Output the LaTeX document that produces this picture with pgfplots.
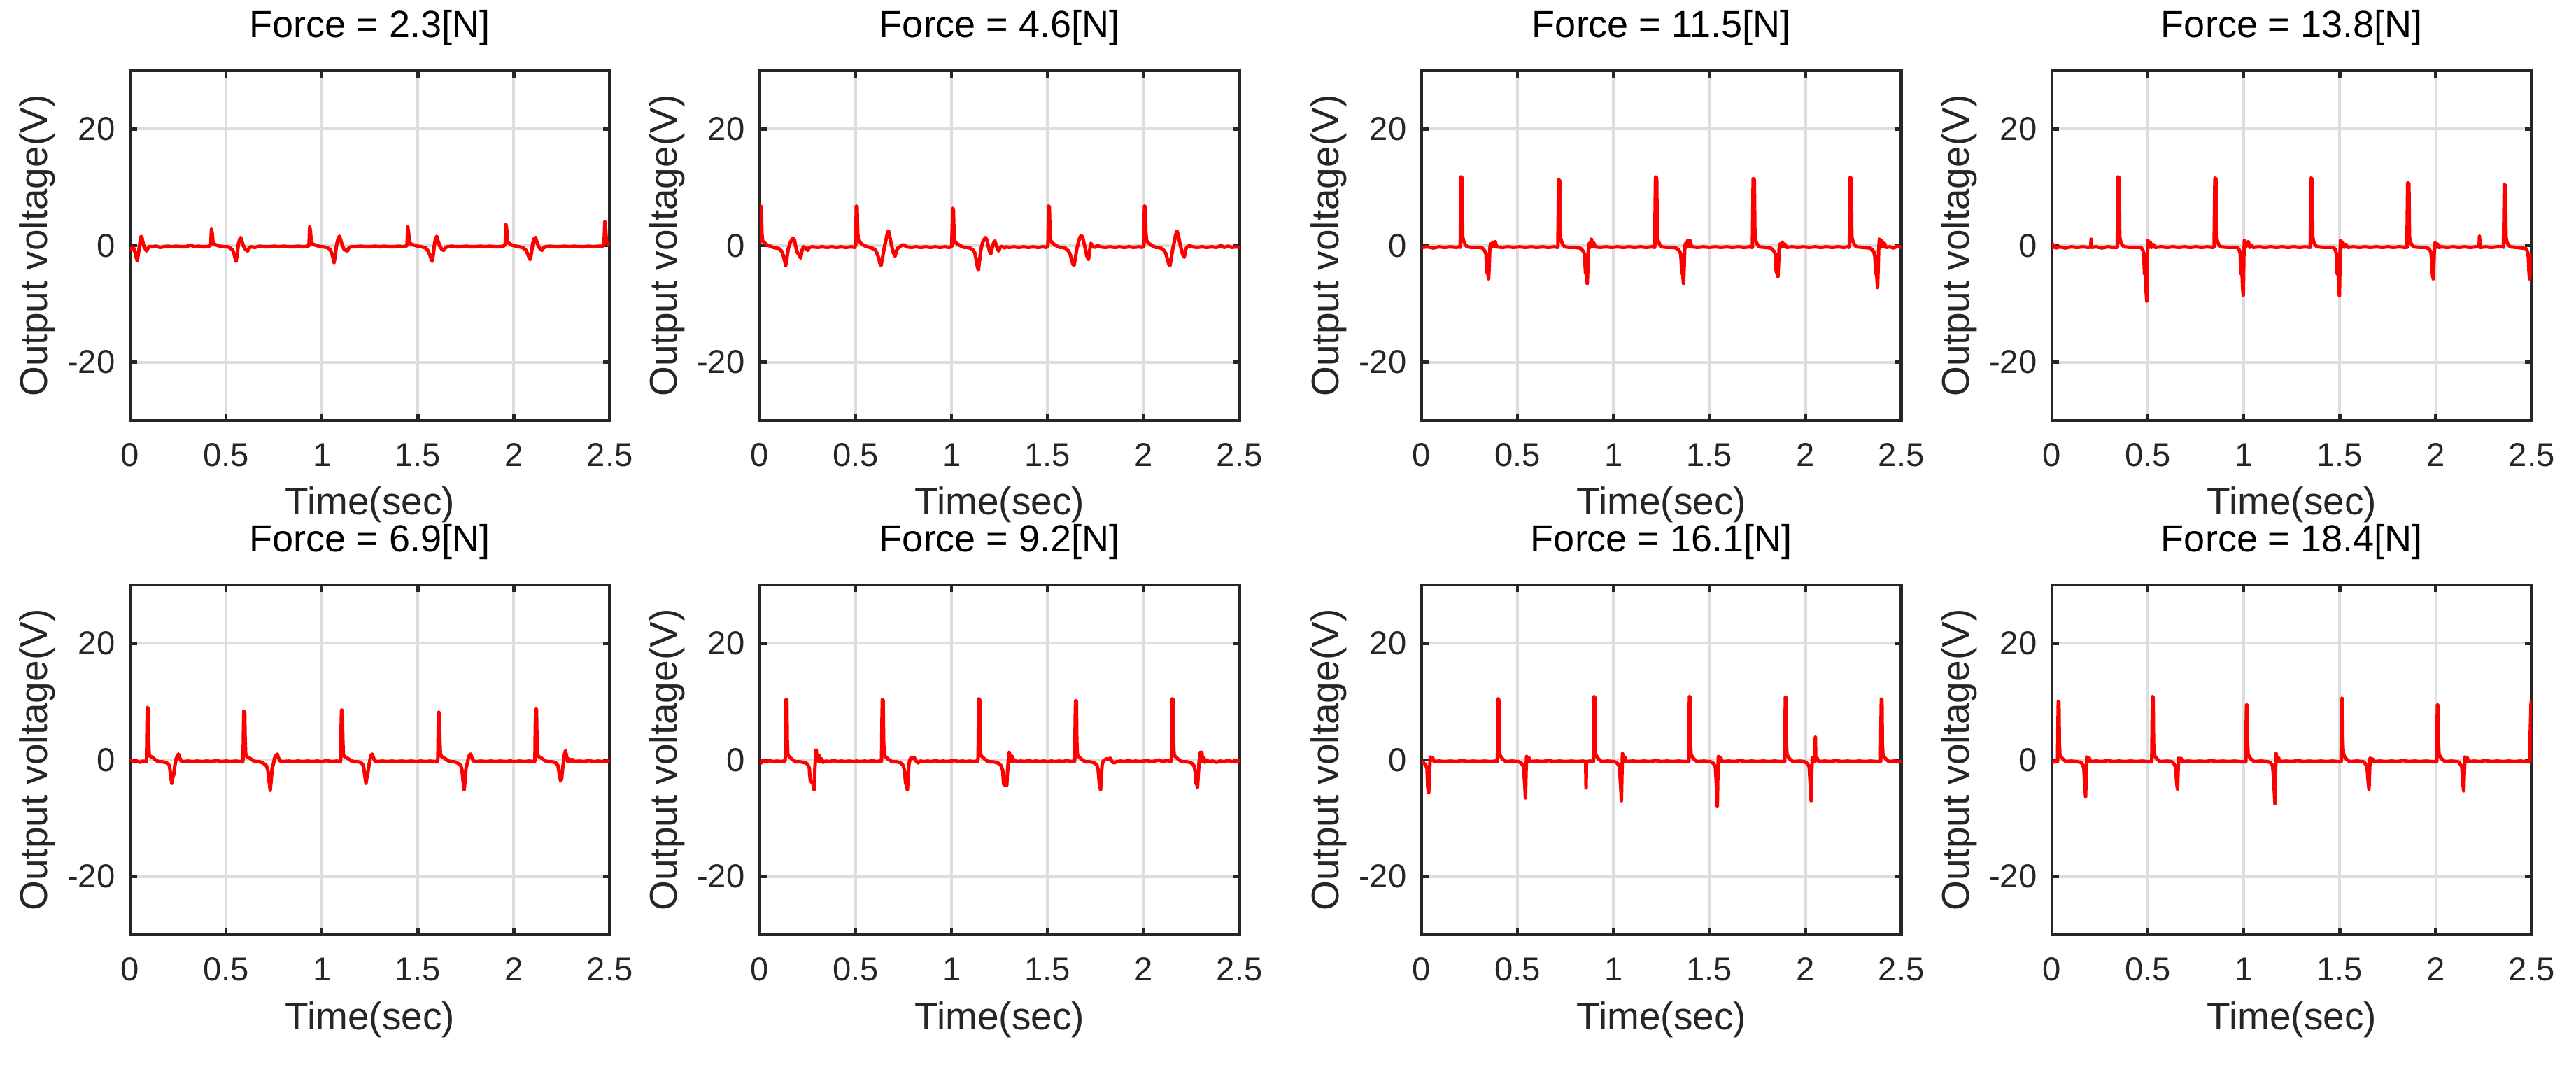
\documentclass[border=0pt]{standalone}
\usepackage{fontspec}
\setmainfont{Liberation Sans}
\usepackage{pgfplots}
\pgfplotsset{compat=1.18}
\definecolor{axc}{RGB}{38,38,38}
\definecolor{gridc}{RGB}{222,222,222}
\pgfplotsset{
  panel/.style={
    scale only axis, width=171.4pt, height=125pt, anchor=south west,
    xmin=0, xmax=2.5, ymin=-30, ymax=30,
    xtick={0,0.5,1,1.5,2,2.5}, xticklabels={0,0.5,1,1.5,2,2.5},
    ytick={-20,0,20}, yticklabels={-20,0,20},
    grid=major, major grid style={draw=gridc, line width=1pt},
    axis line style={draw=axc, line width=1.1pt},
    tick style={draw=axc, line width=1.1pt}, major tick length=2.4pt,
    tick align=inside, xtick pos=both, ytick pos=both,
    ticklabel style={font=\fontsize{11.8}{14}\selectfont, text=axc},
    xticklabel style={yshift=-4.7pt},
    yticklabel style={xshift=-1.9pt},
    xlabel={Time(sec)}, ylabel={Output voltage(V)},
    label style={font=\fontsize{13.75}{16}\selectfont, text=axc, inner sep=0pt},
    xlabel style={at={(axis description cs:0.5,-0.27)}, anchor=base},
    ylabel style={at={(axis description cs:-0.1727,0.5)}, anchor=base},
    title style={at={(axis description cs:0.5,1.047)}, anchor=base, inner sep=0pt, font=\fontsize{13.5}{16}\selectfont, text=black},
  },
  sig/.style={red, line width=1.25pt, line join=round, mark=none},
}
\begin{document}
\begin{tikzpicture}
\useasboundingbox (0,0) rectangle (920.5pt,380.25pt);
% ---------- Row 1 ----------
\begin{axis}[panel, at={(46.5pt,230pt)}, title={Force = 2.3[N]}]
\addplot[sig] coordinates {(0.000,-0.3) (0.008,-0.6) (0.018,-0.4) (0.026,-1.2) (0.032,-2.0) (0.037,-2.6) (0.042,-1.6) (0.048,-0.2) (0.053,1.0) (0.058,1.6) (0.063,1.2) (0.068,0.3) (0.074,-0.3) (0.080,-0.6) (0.086,-0.9) (0.092,-0.5) (0.098,-0.2) (0.115,-0.2) (0.135,-0.1) (0.155,-0.3) (0.175,-0.2) (0.195,-0.1) (0.215,-0.2) (0.240,-0.1) (0.265,-0.2) (0.290,-0.2) (0.315,0.1) (0.335,-0.2) (0.355,-0.1) (0.375,-0.2) (0.395,-0.2) (0.410,-0.1) (0.420,0.1) (0.424,2.8) (0.428,2.0) (0.432,0.6) (0.438,0.3) (0.450,0.1) (0.470,-0.1) (0.490,-0.2) (0.510,-0.2) (0.525,-0.5) (0.535,-0.8) (0.543,-1.6) (0.552,-2.7) (0.558,-1.5) (0.564,0.2) (0.570,1.0) (0.576,1.4) (0.582,0.8) (0.590,0.0) (0.598,-0.5) (0.606,-0.8) (0.613,-0.9) (0.620,-0.4) (0.630,-0.2) (0.650,-0.3) (0.675,-0.1) (0.700,-0.2) (0.725,-0.2) (0.750,-0.1) (0.775,-0.2) (0.800,-0.1) (0.825,-0.2) (0.850,-0.2) (0.875,-0.1) (0.900,-0.2) (0.925,-0.1) (0.932,0.0) (0.936,3.2) (0.940,2.4) (0.944,0.6) (0.950,0.3) (0.965,0.1) (0.985,-0.1) (1.005,-0.2) (1.025,-0.3) (1.040,-0.6) (1.050,-1.2) (1.057,-2.0) (1.063,-2.9) (1.069,-1.6) (1.076,0.1) (1.084,1.2) (1.091,1.6) (1.098,0.9) (1.106,0.0) (1.115,-0.6) (1.124,-0.8) (1.132,-0.9) (1.140,-0.4) (1.150,-0.2) (1.175,-0.2) (1.200,-0.1) (1.225,-0.2) (1.250,-0.2) (1.275,-0.1) (1.300,-0.2) (1.325,-0.1) (1.350,-0.2) (1.375,-0.2) (1.400,-0.1) (1.425,-0.2) (1.443,0.0) (1.447,3.2) (1.451,2.3) (1.455,0.7) (1.462,0.3) (1.480,0.1) (1.500,-0.1) (1.520,-0.2) (1.540,-0.4) (1.553,-0.9) (1.562,-1.6) (1.568,-2.2) (1.574,-2.7) (1.580,-1.5) (1.586,0.2) (1.592,1.2) (1.598,1.6) (1.605,0.8) (1.614,-0.1) (1.624,-0.6) (1.634,-0.8) (1.642,-0.4) (1.652,-0.2) (1.675,-0.1) (1.700,-0.2) (1.725,-0.2) (1.750,-0.1) (1.775,-0.2) (1.800,-0.2) (1.825,-0.1) (1.850,-0.2) (1.875,-0.1) (1.900,-0.2) (1.925,-0.2) (1.945,-0.1) (1.955,0.2) (1.959,3.6) (1.963,2.6) (1.967,0.8) (1.974,0.4) (1.990,0.1) (2.010,-0.1) (2.030,-0.2) (2.050,-0.4) (2.063,-0.8) (2.072,-1.4) (2.079,-2.0) (2.085,-2.4) (2.091,-1.4) (2.098,0.3) (2.106,1.2) (2.113,1.4) (2.120,0.6) (2.130,-0.2) (2.138,-0.6) (2.146,-0.8) (2.154,-0.4) (2.165,-0.2) (2.190,-0.1) (2.215,-0.2) (2.240,-0.2) (2.265,-0.1) (2.290,-0.2) (2.315,-0.1) (2.340,-0.2) (2.365,-0.2) (2.390,-0.1) (2.415,-0.2) (2.440,-0.1) (2.460,-0.1) (2.470,0.1) (2.474,4.1) (2.478,3.0) (2.482,0.8) (2.490,0.3) (2.500,0.1)};
\end{axis}
\begin{axis}[panel, at={(271.5pt,230pt)}, title={Force = 4.6[N]}]
\addplot[sig] coordinates {(0.000,0.2) (0.002,3.5) (0.004,6.8) (0.008,6.6) (0.011,2.0) (0.015,0.8) (0.022,0.6) (0.030,0.3) (0.040,0.1) (0.055,-0.1) (0.070,-0.3) (0.085,-0.4) (0.100,-0.5) (0.112,-0.9) (0.120,-1.4) (0.128,-2.4) (0.135,-3.4) (0.141,-2.2) (0.148,-0.6) (0.156,0.3) (0.165,0.9) (0.172,1.3) (0.180,1.0) (0.188,-0.3) (0.196,-1.2) (0.205,-1.6) (0.213,-2.1) (0.220,-0.8) (0.228,-0.2) (0.240,-0.4) (0.250,-0.8) (0.258,-0.3) (0.275,-0.2) (0.300,-0.3) (0.325,-0.2) (0.350,-0.3) (0.375,-0.2) (0.400,-0.3) (0.425,-0.2) (0.450,-0.3) (0.475,-0.2) (0.495,-0.3) (0.500,0.2) (0.503,6.8) (0.507,6.6) (0.510,2.2) (0.514,0.9) (0.522,0.6) (0.530,0.3) (0.545,0.0) (0.560,-0.2) (0.575,-0.3) (0.590,-0.5) (0.603,-0.8) (0.612,-1.4) (0.620,-2.2) (0.626,-3.0) (0.632,-3.4) (0.638,-2.4) (0.645,-1.0) (0.652,0.2) (0.660,1.3) (0.666,2.3) (0.671,2.5) (0.676,1.8) (0.683,0.6) (0.690,-0.4) (0.697,-1.3) (0.705,-1.8) (0.712,-0.9) (0.720,-0.4) (0.730,-0.2) (0.740,0.1) (0.752,0.1) (0.765,-0.2) (0.790,-0.3) (0.815,-0.2) (0.840,-0.3) (0.865,-0.2) (0.890,-0.3) (0.915,-0.2) (0.940,-0.3) (0.965,-0.2) (0.985,-0.3) (1.000,-0.2) (1.003,3.0) (1.006,6.4) (1.009,6.2) (1.012,2.2) (1.016,0.8) (1.025,0.4) (1.035,0.2) (1.050,-0.1) (1.065,-0.3) (1.080,-0.3) (1.095,-0.4) (1.110,-0.7) (1.120,-1.2) (1.128,-2.4) (1.134,-3.6) (1.139,-4.2) (1.145,-2.6) (1.152,-0.8) (1.160,0.4) (1.168,1.0) (1.177,1.4) (1.185,0.8) (1.192,-0.2) (1.198,-1.0) (1.204,-1.4) (1.211,-0.4) (1.218,0.4) (1.225,0.8) (1.232,0.1) (1.239,-0.6) (1.245,-0.9) (1.253,-0.3) (1.262,-0.1) (1.275,-0.4) (1.285,-0.2) (1.300,-0.3) (1.325,-0.2) (1.350,-0.3) (1.375,-0.2) (1.400,-0.3) (1.425,-0.2) (1.450,-0.3) (1.475,-0.2) (1.495,-0.3) (1.502,0.1) (1.505,6.8) (1.509,6.6) (1.512,2.2) (1.516,0.9) (1.524,0.5) (1.535,0.2) (1.550,-0.1) (1.565,-0.3) (1.580,-0.3) (1.595,-0.5) (1.608,-0.9) (1.617,-1.4) (1.625,-2.4) (1.632,-3.2) (1.638,-3.4) (1.644,-2.2) (1.652,-0.6) (1.660,0.5) (1.668,1.4) (1.675,1.7) (1.682,1.5) (1.690,0.4) (1.697,-0.6) (1.705,-1.8) (1.713,-2.4) (1.719,-0.8) (1.726,0.4) (1.733,-0.1) (1.745,-0.3) (1.760,0.0) (1.775,-0.2) (1.800,-0.3) (1.825,-0.2) (1.850,-0.3) (1.875,-0.2) (1.900,-0.3) (1.925,-0.2) (1.950,-0.3) (1.975,-0.2) (1.995,-0.3) (2.002,0.1) (2.005,6.8) (2.009,6.6) (2.012,2.2) (2.016,0.9) (2.024,0.5) (2.035,0.2) (2.050,-0.1) (2.065,-0.3) (2.080,-0.3) (2.095,-0.5) (2.108,-0.9) (2.117,-1.4) (2.125,-2.4) (2.132,-3.2) (2.138,-3.4) (2.144,-2.2) (2.152,-0.6) (2.160,0.6) (2.167,1.8) (2.174,2.5) (2.180,2.0) (2.188,0.6) (2.196,-0.5) (2.204,-1.5) (2.212,-2.0) (2.219,-0.7) (2.227,-0.2) (2.240,0.0) (2.255,-0.2) (2.280,-0.3) (2.305,-0.2) (2.330,-0.3) (2.355,-0.2) (2.380,-0.3) (2.405,0.0) (2.420,-0.3) (2.440,-0.1) (2.460,-0.3) (2.480,-0.2) (2.500,-0.3)};
\end{axis}
\begin{axis}[panel, at={(508pt,230pt)}, title={Force = 11.5[N]}]
\addplot[sig] coordinates {(0.000,-0.3) (0.030,-0.2) (0.060,-0.4) (0.090,-0.2) (0.120,-0.3) (0.150,-0.2) (0.180,-0.3) (0.195,-0.2) (0.201,-0.3) (0.203,6.0) (0.205,11.8) (0.211,11.6) (0.212,8.0) (0.214,1.5) (0.219,0.8) (0.227,0.2) (0.237,-0.2) (0.260,-0.3) (0.285,-0.3) (0.309,-0.3) (0.319,-0.5) (0.329,-0.9) (0.335,-1.4) (0.340,-4.5) (0.345,-4.8) (0.349,-5.7) (0.352,-3.5) (0.355,-0.6) (0.359,0.3) (0.365,-0.3) (0.371,0.6) (0.377,-0.2) (0.383,0.7) (0.391,-0.2) (0.420,-0.3) (0.450,-0.2) (0.480,-0.3) (0.510,-0.2) (0.540,-0.3) (0.570,-0.2) (0.600,-0.3) (0.630,-0.2) (0.660,-0.3) (0.690,-0.2) (0.710,-0.3) (0.712,5.5) (0.714,11.3) (0.720,11.1) (0.721,7.5) (0.723,1.5) (0.728,0.8) (0.736,0.2) (0.746,-0.2) (0.770,-0.3) (0.800,-0.3) (0.823,-0.4) (0.833,-0.6) (0.843,-1.0) (0.849,-1.5) (0.854,-4.6) (0.859,-5.0) (0.863,-6.5) (0.866,-3.8) (0.869,-0.6) (0.873,0.4) (0.879,-0.3) (0.885,1.1) (0.891,-0.2) (0.897,0.5) (0.905,-0.2) (0.930,-0.3) (0.960,-0.2) (0.990,-0.3) (1.020,-0.2) (1.050,-0.3) (1.080,-0.2) (1.110,-0.3) (1.140,-0.2) (1.170,-0.3) (1.200,-0.2) (1.215,-0.3) (1.217,6.0) (1.219,11.8) (1.225,11.6) (1.226,8.0) (1.228,1.5) (1.233,0.8) (1.241,0.2) (1.251,-0.2) (1.280,-0.3) (1.310,-0.3) (1.325,-0.4) (1.335,-0.6) (1.345,-1.0) (1.351,-1.5) (1.356,-4.6) (1.361,-5.0) (1.365,-6.5) (1.368,-3.8) (1.371,-0.6) (1.375,0.4) (1.381,-0.3) (1.387,0.9) (1.393,-0.1) (1.399,0.9) (1.407,-0.2) (1.440,-0.3) (1.470,-0.2) (1.500,-0.3) (1.530,-0.2) (1.560,-0.3) (1.590,-0.2) (1.620,-0.3) (1.650,-0.2) (1.680,-0.3) (1.710,-0.2) (1.724,-0.3) (1.726,5.8) (1.728,11.5) (1.734,11.3) (1.735,7.8) (1.737,1.5) (1.742,0.8) (1.750,0.2) (1.760,-0.2) (1.790,-0.3) (1.817,-0.4) (1.827,-0.6) (1.837,-1.0) (1.843,-1.4) (1.848,-4.4) (1.853,-4.8) (1.857,-5.3) (1.860,-3.2) (1.863,-0.6) (1.867,0.3) (1.873,-0.3) (1.879,0.6) (1.885,-0.2) (1.893,0.3) (1.901,-0.3) (1.930,-0.2) (1.960,-0.3) (1.990,-0.2) (2.020,-0.3) (2.050,-0.2) (2.080,-0.3) (2.110,-0.2) (2.140,-0.3) (2.170,-0.2) (2.200,-0.3) (2.220,-0.2) (2.229,-0.3) (2.231,6.0) (2.233,11.7) (2.239,11.5) (2.240,7.9) (2.242,1.5) (2.247,0.8) (2.255,0.2) (2.265,-0.2) (2.300,-0.3) (2.336,-0.4) (2.346,-0.6) (2.356,-1.0) (2.362,-1.8) (2.367,-4.6) (2.372,-5.2) (2.376,-7.2) (2.379,-4.0) (2.382,-0.6) (2.386,1.1) (2.392,-0.2) (2.398,0.9) (2.404,-0.2) (2.412,0.4) (2.420,-0.3) (2.440,-0.2) (2.460,-0.4) (2.480,-0.1) (2.500,-0.3)};
\end{axis}
\begin{axis}[panel, at={(733.25pt,230pt)}, title={Force = 13.8[N]}]
\addplot[sig] coordinates {(0.000,0.5) (0.004,-0.4) (0.010,0.1) (0.020,-0.4) (0.040,-0.2) (0.070,-0.4) (0.100,-0.2) (0.130,-0.3) (0.160,-0.2) (0.190,-0.3) (0.202,-0.2) (0.204,1.1) (0.207,-0.3) (0.230,-0.2) (0.260,-0.4) (0.290,-0.2) (0.320,-0.3) (0.340,-0.3) (0.342,6.0) (0.344,11.8) (0.350,11.6) (0.351,8.0) (0.353,1.5) (0.358,0.6) (0.366,0.1) (0.376,-0.2) (0.410,-0.3) (0.445,-0.3) (0.464,-0.3) (0.474,-0.8) (0.478,-1.4) (0.482,-4.8) (0.488,-5.0) (0.491,-8.0) (0.494,-9.5) (0.497,-1.5) (0.500,0.9) (0.506,-0.3) (0.512,0.6) (0.520,-0.3) (0.528,0.2) (0.536,-0.3) (0.570,-0.2) (0.600,-0.3) (0.630,-0.2) (0.660,-0.3) (0.690,-0.2) (0.720,-0.3) (0.750,-0.2) (0.780,-0.3) (0.810,-0.2) (0.840,-0.3) (0.845,-0.2) (0.847,5.8) (0.849,11.6) (0.855,11.4) (0.856,7.8) (0.858,1.5) (0.863,0.6) (0.871,0.1) (0.881,-0.2) (0.920,-0.3) (0.950,-0.3) (0.967,-0.3) (0.977,-0.8) (0.981,-1.4) (0.985,-4.8) (0.991,-5.0) (0.994,-7.5) (0.997,-8.5) (1.000,-1.5) (1.003,0.9) (1.009,-0.3) (1.015,0.3) (1.023,0.7) (1.031,-0.3) (1.039,0.1) (1.047,-0.3) (1.080,-0.2) (1.110,-0.3) (1.140,-0.2) (1.170,-0.3) (1.200,-0.2) (1.230,-0.3) (1.260,-0.2) (1.290,-0.3) (1.320,-0.2) (1.346,-0.3) (1.348,5.8) (1.350,11.6) (1.356,11.4) (1.357,7.8) (1.359,1.5) (1.364,0.6) (1.372,0.1) (1.382,-0.2) (1.420,-0.3) (1.450,-0.3) (1.468,-0.3) (1.478,-0.8) (1.482,-1.4) (1.486,-4.8) (1.492,-5.0) (1.495,-7.5) (1.498,-8.6) (1.501,-1.5) (1.504,0.9) (1.510,-0.3) (1.516,0.6) (1.524,-0.3) (1.532,0.2) (1.540,-0.3) (1.570,-0.2) (1.600,-0.3) (1.630,-0.2) (1.660,-0.3) (1.690,-0.2) (1.720,-0.3) (1.750,-0.2) (1.780,-0.3) (1.810,-0.2) (1.840,-0.3) (1.850,-0.3) (1.852,5.5) (1.854,10.8) (1.860,10.6) (1.861,7.2) (1.863,1.5) (1.868,0.6) (1.876,0.1) (1.886,-0.2) (1.920,-0.3) (1.950,-0.3) (1.962,-0.5) (1.970,-0.8) (1.975,-1.2) (1.979,-2.5) (1.983,-5.0) (1.987,-5.7) (1.990,-3.0) (1.993,-0.4) (1.997,0.5) (2.003,-0.3) (2.009,0.3) (2.017,-0.3) (2.030,-0.2) (2.060,-0.3) (2.090,-0.2) (2.120,-0.3) (2.150,-0.2) (2.180,-0.3) (2.210,-0.2) (2.226,-0.2) (2.228,1.6) (2.231,-0.3) (2.260,-0.2) (2.290,-0.3) (2.320,-0.2) (2.350,-0.2) (2.353,-0.3) (2.355,5.3) (2.357,10.5) (2.363,10.3) (2.364,7.0) (2.366,1.5) (2.371,0.6) (2.379,0.1) (2.389,-0.2) (2.420,-0.3) (2.450,-0.4) (2.470,-0.5) (2.478,-1.0) (2.483,-2.0) (2.486,-4.5) (2.489,-5.7) (2.492,-4.0) (2.495,-2.0) (2.500,-1.3)};
\end{axis}
% ---------- Row 2 ----------
\begin{axis}[panel, at={(46.5pt,46.25pt)}, title={Force = 6.9[N]}]
\addplot[sig] coordinates {(0.000,-0.2) (0.010,0.0) (0.020,-0.3) (0.035,-0.2) (0.050,-0.4) (0.065,-0.2) (0.078,-0.3) (0.084,-0.3) (0.086,0.4) (0.088,6.0) (0.090,9.0) (0.094,8.8) (0.096,4.0) (0.099,1.0) (0.105,0.6) (0.115,0.5) (0.125,0.2) (0.135,-0.1) (0.150,-0.3) (0.165,-0.3) (0.180,-0.4) (0.190,-0.5) (0.198,-0.7) (0.205,-1.0) (0.211,-2.6) (0.217,-4.0) (0.222,-3.0) (0.227,-2.5) (0.233,-1.0) (0.240,0.2) (0.246,0.7) (0.252,1.0) (0.258,0.4) (0.266,-0.2) (0.280,-0.3) (0.300,-0.2) (0.325,-0.3) (0.350,-0.2) (0.375,-0.3) (0.400,-0.2) (0.425,-0.3) (0.450,-0.1) (0.475,-0.3) (0.500,-0.2) (0.525,-0.3) (0.550,-0.2) (0.575,-0.3) (0.587,-0.3) (0.589,0.4) (0.591,5.6) (0.593,8.4) (0.597,8.2) (0.599,3.8) (0.602,1.0) (0.608,0.6) (0.618,0.4) (0.628,0.2) (0.640,-0.1) (0.655,-0.3) (0.675,-0.3) (0.690,-0.5) (0.700,-0.7) (0.710,-1.0) (0.718,-1.8) (0.724,-3.5) (0.730,-5.2) (0.735,-3.5) (0.740,-1.4) (0.746,-0.8) (0.752,0.2) (0.760,0.8) (0.767,1.0) (0.774,0.3) (0.782,-0.2) (0.800,-0.3) (0.825,-0.2) (0.850,-0.3) (0.875,-0.2) (0.900,-0.3) (0.925,-0.2) (0.950,-0.3) (0.975,-0.2) (1.000,-0.3) (1.025,-0.1) (1.050,-0.3) (1.075,-0.2) (1.096,-0.3) (1.098,0.4) (1.100,5.8) (1.102,8.6) (1.106,8.4) (1.108,3.9) (1.111,1.0) (1.117,0.6) (1.127,0.4) (1.137,0.2) (1.150,-0.1) (1.165,-0.3) (1.185,-0.3) (1.198,-0.4) (1.208,-0.6) (1.216,-1.0) (1.223,-2.6) (1.229,-4.0) (1.234,-3.0) (1.239,-2.2) (1.245,-0.9) (1.251,0.2) (1.256,0.8) (1.262,1.0) (1.268,0.4) (1.276,-0.2) (1.290,-0.3) (1.315,-0.2) (1.340,-0.3) (1.365,-0.2) (1.390,-0.3) (1.415,-0.2) (1.440,-0.3) (1.465,-0.2) (1.490,-0.3) (1.515,-0.2) (1.540,-0.3) (1.565,-0.2) (1.590,-0.3) (1.602,-0.3) (1.604,0.4) (1.606,5.5) (1.608,8.2) (1.612,8.0) (1.614,3.7) (1.617,1.0) (1.623,0.6) (1.633,0.4) (1.643,0.2) (1.655,-0.1) (1.670,-0.3) (1.690,-0.3) (1.705,-0.5) (1.715,-0.7) (1.724,-1.0) (1.730,-1.8) (1.735,-3.5) (1.741,-5.1) (1.746,-3.4) (1.751,-1.3) (1.757,-0.6) (1.763,0.3) (1.769,0.9) (1.775,1.0) (1.782,0.3) (1.790,-0.2) (1.805,-0.3) (1.830,-0.2) (1.855,-0.3) (1.880,-0.2) (1.905,-0.3) (1.930,-0.2) (1.955,-0.3) (1.980,-0.2) (2.005,-0.3) (2.030,-0.2) (2.055,-0.3) (2.080,-0.2) (2.100,-0.3) (2.108,-0.3) (2.110,0.4) (2.112,6.0) (2.114,8.8) (2.118,8.6) (2.120,4.0) (2.123,1.0) (2.129,0.6) (2.139,0.4) (2.149,0.2) (2.160,-0.1) (2.175,-0.3) (2.195,-0.3) (2.212,-0.4) (2.222,-0.6) (2.230,-1.0) (2.237,-2.4) (2.244,-3.6) (2.249,-3.2) (2.254,-1.5) (2.259,-0.2) (2.264,1.0) (2.269,1.6) (2.274,0.8) (2.280,-0.3) (2.288,0.2) (2.296,-0.3) (2.304,0.1) (2.315,-0.3) (2.340,-0.2) (2.365,-0.3) (2.390,-0.1) (2.415,-0.3) (2.440,-0.2) (2.465,-0.3) (2.500,-0.2)};
\end{axis}
\begin{axis}[panel, at={(271.5pt,46.25pt)}, title={Force = 9.2[N]}]
\addplot[sig] coordinates {(0.000,-0.2) (0.008,-0.5) (0.015,-0.1) (0.030,-0.3) (0.050,-0.1) (0.070,-0.3) (0.090,-0.2) (0.110,-0.3) (0.125,-0.2) (0.131,-0.2) (0.133,0.5) (0.135,7.0) (0.137,10.4) (0.141,10.2) (0.143,3.5) (0.146,1.0) (0.152,0.6) (0.162,0.3) (0.172,0.0) (0.187,-0.3) (0.205,-0.3) (0.225,-0.4) (0.240,-0.5) (0.250,-0.8) (0.258,-1.4) (0.263,-3.5) (0.270,-3.8) (0.276,-3.9) (0.283,-5.1) (0.287,-1.5) (0.291,0.8) (0.294,1.7) (0.298,0.3) (0.303,-0.2) (0.308,0.8) (0.314,-0.3) (0.322,0.2) (0.330,-0.4) (0.345,-0.2) (0.365,-0.3) (0.385,-0.1) (0.405,-0.3) (0.425,-0.2) (0.445,-0.3) (0.465,-0.2) (0.485,-0.3) (0.505,-0.2) (0.525,-0.3) (0.545,-0.2) (0.565,-0.3) (0.585,-0.1) (0.605,-0.3) (0.625,-0.2) (0.633,-0.3) (0.635,0.5) (0.637,7.0) (0.639,10.4) (0.643,10.2) (0.645,3.5) (0.648,1.0) (0.654,0.6) (0.664,0.3) (0.674,0.0) (0.690,-0.3) (0.710,-0.3) (0.725,-0.4) (0.738,-0.6) (0.748,-1.0) (0.755,-2.0) (0.760,-4.0) (0.765,-4.4) (0.769,-5.1) (0.773,-3.0) (0.777,-0.8) (0.782,0.0) (0.788,0.4) (0.795,0.2) (0.805,0.4) (0.815,-0.2) (0.825,-0.5) (0.835,-0.2) (0.855,-0.3) (0.875,-0.2) (0.895,-0.3) (0.915,-0.1) (0.935,-0.3) (0.955,-0.2) (0.975,-0.3) (0.995,-0.2) (1.015,-0.1) (1.035,-0.3) (1.055,-0.2) (1.075,-0.3) (1.095,-0.2) (1.115,-0.3) (1.130,-0.2) (1.136,-0.2) (1.138,0.5) (1.140,7.2) (1.142,10.5) (1.146,10.3) (1.148,3.6) (1.151,1.0) (1.157,0.6) (1.167,0.3) (1.177,0.0) (1.192,-0.3) (1.210,-0.3) (1.230,-0.4) (1.245,-0.6) (1.258,-1.0) (1.266,-1.8) (1.271,-4.2) (1.280,-4.3) (1.287,-4.4) (1.291,-2.0) (1.296,0.2) (1.300,1.3) (1.304,0.8) (1.308,-0.2) (1.314,0.7) (1.320,-0.3) (1.330,0.0) (1.340,-0.3) (1.360,-0.2) (1.380,-0.3) (1.400,-0.1) (1.420,-0.3) (1.440,-0.2) (1.460,-0.3) (1.480,-0.2) (1.500,-0.3) (1.520,-0.2) (1.540,-0.3) (1.560,-0.2) (1.580,-0.3) (1.600,-0.1) (1.620,-0.3) (1.635,-0.2) (1.640,-0.3) (1.642,0.4) (1.644,7.0) (1.646,10.2) (1.650,10.0) (1.652,3.4) (1.655,1.0) (1.661,0.6) (1.671,0.3) (1.681,0.0) (1.696,-0.3) (1.715,-0.3) (1.735,-0.4) (1.748,-0.6) (1.758,-1.0) (1.764,-1.8) (1.769,-3.8) (1.772,-4.4) (1.776,-5.1) (1.780,-2.8) (1.784,-0.8) (1.790,-0.2) (1.798,0.0) (1.808,0.2) (1.818,0.1) (1.826,0.3) (1.834,-0.2) (1.845,-0.5) (1.860,-0.3) (1.880,-0.2) (1.900,-0.3) (1.920,-0.1) (1.940,-0.3) (1.960,-0.2) (1.980,-0.3) (2.000,-0.2) (2.020,-0.1) (2.040,-0.3) (2.060,-0.2) (2.080,0.0) (2.100,-0.3) (2.120,-0.1) (2.138,-0.2) (2.144,-0.2) (2.146,0.5) (2.148,7.2) (2.150,10.5) (2.154,10.3) (2.156,3.6) (2.159,1.0) (2.165,0.6) (2.175,0.3) (2.185,0.0) (2.200,-0.3) (2.220,-0.3) (2.240,-0.4) (2.253,-0.6) (2.263,-1.0) (2.269,-2.0) (2.274,-4.0) (2.278,-4.2) (2.281,-4.7) (2.285,-2.5) (2.290,-0.2) (2.296,1.3) (2.301,0.6) (2.304,1.3) (2.308,-0.3) (2.314,0.4) (2.320,-0.4) (2.330,0.0) (2.340,-0.3) (2.360,-0.2) (2.380,-0.4) (2.400,-0.2) (2.420,-0.3) (2.440,-0.1) (2.460,-0.3) (2.480,-0.2) (2.500,-0.2)};
\end{axis}
\begin{axis}[panel, at={(508pt,46.25pt)}, title={Force = 16.1[N]}]
\addplot[sig] coordinates {(0.000,-0.3) (0.010,-0.5) (0.020,-0.8) (0.028,-1.4) (0.032,-4.8) (0.037,-5.6) (0.041,-2.0) (0.045,0.5) (0.050,-0.1) (0.057,0.4) (0.065,-0.3) (0.090,-0.2) (0.120,-0.3) (0.150,-0.2) (0.180,-0.3) (0.210,-0.1) (0.240,-0.3) (0.270,-0.2) (0.300,-0.3) (0.330,-0.2) (0.360,-0.3) (0.385,-0.2) (0.395,-0.3) (0.397,6.0) (0.399,10.5) (0.402,10.3) (0.404,3.0) (0.407,1.0) (0.414,0.5) (0.424,0.1) (0.439,-0.3) (0.470,-0.2) (0.506,-0.3) (0.521,-0.6) (0.531,-1.2) (0.536,-3.5) (0.539,-5.0) (0.541,-6.5) (0.544,-2.0) (0.547,0.6) (0.553,-0.3) (0.559,0.4) (0.567,-0.3) (0.600,-0.2) (0.630,-0.3) (0.660,-0.1) (0.690,-0.3) (0.720,-0.2) (0.750,-0.3) (0.780,-0.2) (0.810,-0.3) (0.840,-0.2) (0.855,-0.3) (0.857,-4.8) (0.859,-0.3) (0.880,-0.2) (0.895,-0.3) (0.897,6.3) (0.899,10.9) (0.902,10.7) (0.904,3.0) (0.907,1.0) (0.914,0.5) (0.924,0.1) (0.939,-0.3) (0.970,-0.2) (1.006,-0.3) (1.021,-0.6) (1.031,-1.2) (1.036,-3.8) (1.039,-5.4) (1.041,-7.0) (1.044,-2.0) (1.047,1.1) (1.053,-0.3) (1.059,0.5) (1.067,-0.3) (1.100,-0.2) (1.130,-0.3) (1.160,-0.2) (1.190,-0.3) (1.220,-0.1) (1.250,-0.3) (1.280,-0.2) (1.310,-0.3) (1.340,-0.2) (1.370,-0.3) (1.392,-0.3) (1.394,6.3) (1.396,10.9) (1.399,10.7) (1.401,3.0) (1.404,1.0) (1.411,0.5) (1.421,0.1) (1.436,-0.3) (1.470,-0.2) (1.506,-0.3) (1.521,-0.6) (1.531,-1.2) (1.536,-4.0) (1.539,-6.0) (1.541,-8.0) (1.544,-2.0) (1.547,0.6) (1.553,-0.3) (1.559,0.4) (1.567,-0.3) (1.600,-0.2) (1.630,-0.3) (1.660,-0.1) (1.690,-0.3) (1.720,-0.2) (1.750,-0.3) (1.780,-0.2) (1.810,-0.3) (1.840,-0.2) (1.870,-0.3) (1.892,-0.3) (1.894,6.2) (1.896,10.8) (1.899,10.6) (1.901,3.0) (1.904,1.0) (1.911,0.5) (1.921,0.1) (1.936,-0.3) (1.970,-0.2) (1.995,-0.3) (2.010,-0.6) (2.020,-1.2) (2.025,-4.0) (2.028,-5.5) (2.030,-7.0) (2.033,-2.0) (2.036,0.4) (2.042,-0.3) (2.048,0.2) (2.050,-0.2) (2.052,3.9) (2.054,-0.2) (2.062,0.3) (2.070,-0.3) (2.100,-0.2) (2.130,-0.3) (2.160,-0.1) (2.190,-0.3) (2.220,-0.2) (2.250,-0.3) (2.280,-0.2) (2.310,-0.3) (2.340,-0.2) (2.370,-0.3) (2.392,-0.3) (2.394,6.0) (2.396,10.5) (2.399,10.3) (2.401,3.0) (2.404,1.0) (2.411,0.5) (2.421,0.1) (2.436,-0.3) (2.460,-0.2) (2.480,-0.3) (2.500,-0.3)};
\end{axis}
\begin{axis}[panel, at={(733.25pt,46.25pt)}, title={Force = 18.4[N]}]
\addplot[sig] coordinates {(0.000,-0.2) (0.010,-0.4) (0.020,-0.2) (0.029,-0.3) (0.031,6.0) (0.033,10.1) (0.036,9.9) (0.038,3.0) (0.041,1.0) (0.048,0.5) (0.058,0.1) (0.073,-0.3) (0.100,-0.2) (0.130,-0.3) (0.150,-0.4) (0.160,-0.8) (0.166,-1.4) (0.170,-3.8) (0.173,-5.0) (0.175,-6.3) (0.178,-2.0) (0.181,0.5) (0.187,-0.3) (0.193,0.4) (0.201,-0.3) (0.230,-0.2) (0.260,-0.3) (0.290,-0.1) (0.320,-0.3) (0.350,-0.2) (0.380,-0.3) (0.410,-0.2) (0.440,-0.3) (0.470,-0.2) (0.500,-0.3) (0.520,-0.3) (0.522,6.3) (0.524,10.9) (0.527,10.7) (0.529,3.0) (0.532,1.0) (0.539,0.5) (0.549,0.1) (0.564,-0.3) (0.600,-0.2) (0.625,-0.3) (0.635,-0.6) (0.644,-1.2) (0.648,-3.0) (0.651,-4.2) (0.654,-5.0) (0.657,-2.0) (0.660,0.3) (0.666,-0.3) (0.672,0.3) (0.680,-0.3) (0.710,-0.2) (0.740,-0.3) (0.770,-0.2) (0.800,-0.3) (0.830,-0.1) (0.860,-0.3) (0.890,-0.2) (0.920,-0.3) (0.950,-0.2) (0.980,-0.3) (1.010,-0.3) (1.012,5.5) (1.014,9.5) (1.017,9.3) (1.019,3.0) (1.022,1.0) (1.029,0.5) (1.039,0.1) (1.054,-0.3) (1.090,-0.2) (1.125,-0.3) (1.140,-0.5) (1.150,-1.0) (1.155,-3.2) (1.159,-5.6) (1.162,-7.5) (1.165,-2.0) (1.168,1.1) (1.174,-0.3) (1.180,0.4) (1.188,-0.3) (1.220,-0.2) (1.250,-0.3) (1.280,-0.1) (1.310,-0.3) (1.340,-0.2) (1.370,-0.3) (1.400,-0.2) (1.430,-0.3) (1.460,-0.2) (1.490,-0.3) (1.507,-0.3) (1.509,6.2) (1.511,10.6) (1.514,10.4) (1.516,3.0) (1.519,1.0) (1.526,0.5) (1.536,0.1) (1.551,-0.3) (1.590,-0.2) (1.622,-0.3) (1.632,-0.6) (1.642,-1.2) (1.646,-3.0) (1.649,-4.2) (1.652,-5.0) (1.655,-2.0) (1.658,0.3) (1.664,-0.3) (1.670,0.2) (1.678,-0.3) (1.710,-0.2) (1.740,-0.3) (1.770,-0.2) (1.800,-0.3) (1.830,-0.1) (1.860,-0.3) (1.890,-0.2) (1.920,-0.3) (1.950,-0.2) (1.980,-0.3) (2.005,-0.3) (2.007,5.5) (2.009,9.5) (2.012,9.3) (2.014,3.0) (2.017,1.0) (2.024,0.5) (2.034,0.1) (2.049,-0.3) (2.080,-0.2) (2.116,-0.3) (2.126,-0.6) (2.136,-1.2) (2.140,-3.2) (2.143,-4.5) (2.146,-5.3) (2.149,-2.0) (2.152,0.5) (2.158,-0.3) (2.164,0.4) (2.172,-0.3) (2.200,-0.2) (2.230,-0.3) (2.260,-0.1) (2.290,-0.3) (2.320,-0.2) (2.350,-0.3) (2.380,-0.2) (2.410,-0.3) (2.440,-0.2) (2.470,-0.3) (2.490,-0.3) (2.493,5.0) (2.497,9.9) (2.500,9.9)};
\end{axis}
\end{tikzpicture}
\end{document}
